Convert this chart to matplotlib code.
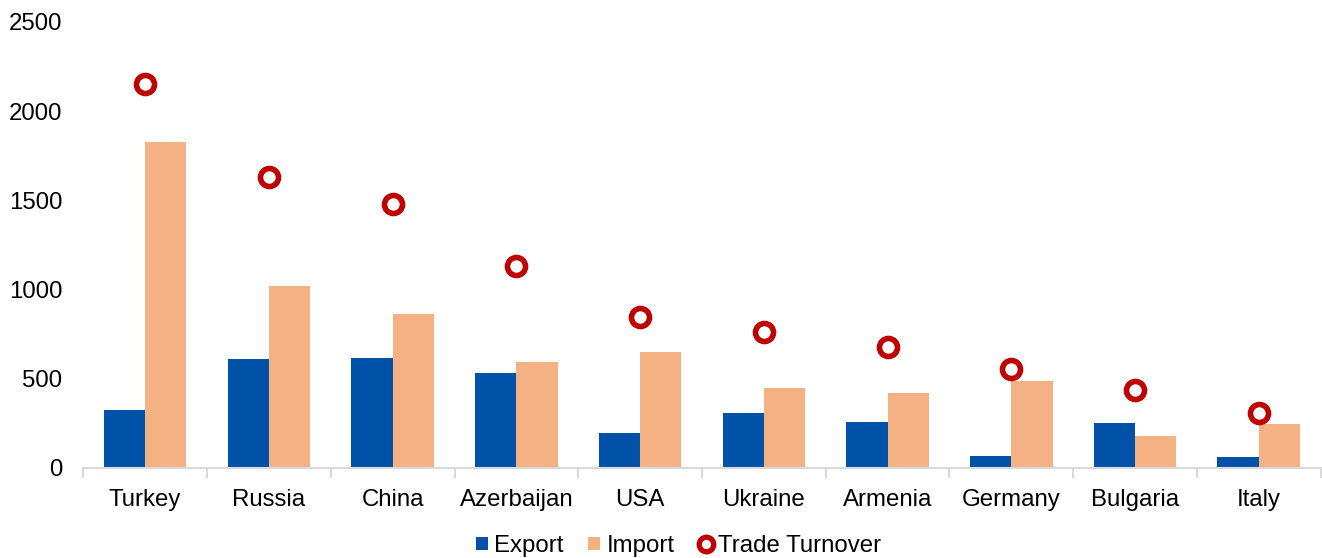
import matplotlib
matplotlib.use("Agg")
import matplotlib.pyplot as plt
import numpy as np
from matplotlib.lines import Line2D
from matplotlib.patches import Patch

countries = ["Turkey", "Russia", "China", "Azerbaijan", "USA",
             "Ukraine", "Armenia", "Germany", "Bulgaria", "Italy"]
export = [325, 611, 617, 532, 196, 308, 258, 67, 252, 62]
imports = [1827, 1020, 863, 594, 650, 448, 420, 488, 179, 247]
turnover = [2152, 1633, 1482, 1130, 846, 760, 678, 555, 435, 308]

BLUE = "#0051A8"
ORANGE = "#F4B183"
RED = "#C00000"

plt.rcParams["font.family"] = ["Liberation Sans", "DejaVu Sans"]
plt.rcParams["font.size"] = 17.3

fig = plt.figure(figsize=(13.22, 5.58), dpi=100)
ax = fig.add_axes([0.063, 0.1613, 0.936, 0.7993])

x = np.arange(len(countries))
w = 0.334
ax.bar(x - w / 2, export, width=w, color=BLUE, zorder=2)
ax.bar(x + w / 2, imports, width=w, color=ORANGE, zorder=2)
ax.plot(x, turnover, linestyle="none", marker="o", markersize=13,
        markerfacecolor="white", markeredgecolor=RED, markeredgewidth=4, zorder=3)

ax.set_xlim(-0.5, len(countries) - 0.5)
ax.set_ylim(0, 2500)
ax.set_yticks(np.arange(0, 2501, 500))
ax.tick_params(axis="y", length=0, pad=15)

ax.set_xticks(x)
ax.set_xticklabels(countries)
ax.set_xticks(np.arange(-0.5, len(countries)), minor=True)
ax.tick_params(axis="x", which="major", length=0, pad=15)
ax.tick_params(axis="x", which="minor", length=7, width=1.5, color="#D9D9D9", direction="out")

for side in ["left", "right", "top"]:
    ax.spines[side].set_visible(False)
ax.spines["bottom"].set_color("#D9D9D9")
ax.spines["bottom"].set_linewidth(1.5)

handles = [
    Patch(facecolor=BLUE, label="Export"),
    Patch(facecolor=ORANGE, label="Import"),
    Line2D([], [], linestyle="none", marker="o", markersize=10.5,
           markerfacecolor="white", markeredgecolor=RED, markeredgewidth=3.8,
           label="Trade Turnover"),
]
fig.legend(handles=handles, loc="lower center", bbox_to_anchor=(0.513, -0.037),
           ncol=3, frameon=False, handlelength=0.5, handleheight=0.5,
           handletextpad=0.25, columnspacing=1.05, fontsize=17.3)

fig.savefig("out.png", dpi=100)
